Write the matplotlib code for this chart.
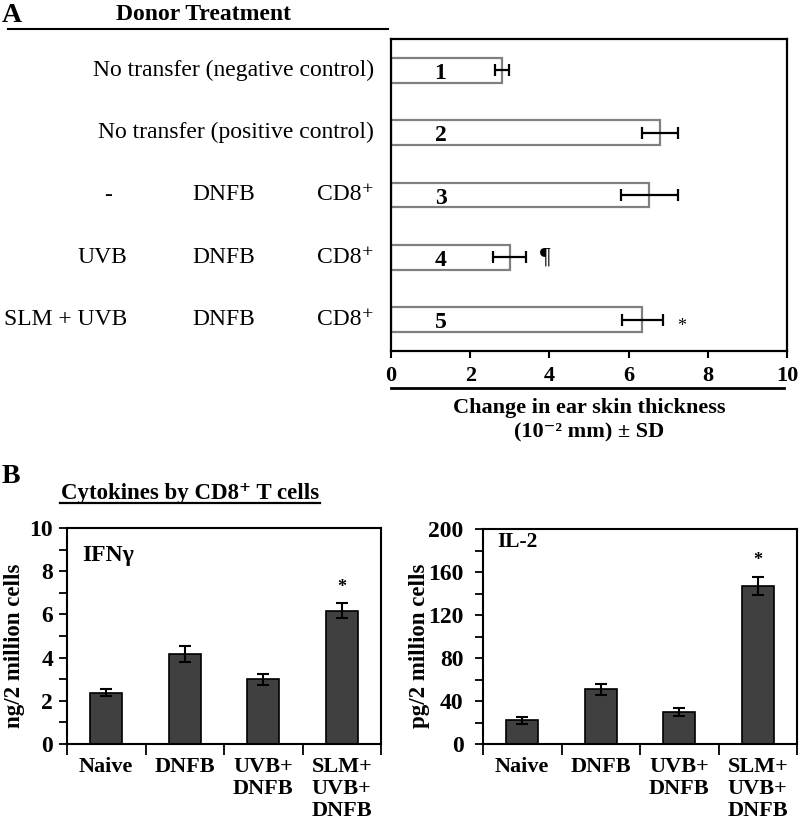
import numpy as np
import matplotlib
matplotlib.use("Agg")
import matplotlib.pyplot as plt
from matplotlib.lines import Line2D
from matplotlib.transforms import blended_transform_factory

plt.rcParams['font.family'] = ['Liberation Serif', 'DejaVu Serif']

# ---------------- data ----------------
# Panel A
row_numbers = ["1", "2", "3", "4", "5"]
control_labels = ["No transfer (negative control)", "No transfer (positive control)"]
treat_col1 = ["-", "UVB", "SLM + UVB"]
treat_col2 = ["DNFB", "DNFB", "DNFB"]
treat_col3 = ["CD8\u207a", "CD8\u207a", "CD8\u207a"]
thickness = [2.8, 6.8, 6.52, 3.0, 6.35]
thickness_sd = [0.18, 0.46, 0.72, 0.42, 0.52]
thickness_marks = ["", "", "", "\u00b6", "*"]
a_xticks = [0, 2, 4, 6, 8, 10]

# Panel B
groups = ["Naive", "DNFB", "UVB+\nDNFB", "SLM+\nUVB+\nDNFB"]
ifng = [2.38, 4.17, 3.0, 6.18]
ifng_sd = [0.15, 0.37, 0.25, 0.36]
il2 = [22, 51, 30, 147]
il2_sd = [3, 5, 3.5, 8]
sig_marks = ["", "", "", "*"]
ifng_ticks = [0, 2, 4, 6, 8, 10]
il2_ticks = [0, 40, 80, 120, 160, 200]

W, H = 800, 825
fig = plt.figure(figsize=(W / 100, H / 100), dpi=100)


def px_axes(l, t, r, b):
    return fig.add_axes([l / W, 1 - b / H, (r - l) / W, (b - t) / H])


def ftext(x, y, s, **kw):
    return fig.text(x / W, 1 - y / H, s, **kw)


def fline(x0, x1, y, lw=1.5):
    fig.add_artist(Line2D([x0 / W, x1 / W], [1 - y / H, 1 - y / H],
                          transform=fig.transFigure, color='black', lw=lw))


# ---------------- Panel A ----------------
axA = px_axes(391, 39, 787, 351)
ypos = np.arange(len(thickness))
axA.barh(ypos, thickness, xerr=thickness_sd, height=0.4, color='white',
         edgecolor='#808080', linewidth=1.6,
         error_kw=dict(ecolor='black', elinewidth=1.6, capsize=4, capthick=1.6))
axA.set_xlim(0, 10)
axA.set_ylim(len(thickness) - 0.5, -0.5)
axA.set_yticks([])
axA.set_xticks(a_xticks)
axA.tick_params(axis='x', direction='out', length=5, width=1.5, pad=6, labelsize=16)
for lab in axA.get_xticklabels():
    lab.set_fontweight('bold')
for sp in axA.spines.values():
    sp.set_linewidth(1.6)

for i, s in enumerate(row_numbers):
    axA.text(1.25, i + 0.05, s, ha='center', va='center', fontsize=17, fontweight='bold')
for i, m in enumerate(thickness_marks):
    if m:
        fs = 17 if m != "*" else 13
        dy = 0 if m != "*" else 5
        axA.annotate(m, xy=(thickness[i] + thickness_sd[i], i), xytext=(10, -dy),
                     textcoords='offset points', ha='left', va='center', fontsize=fs)

trA = blended_transform_factory(fig.transFigure, axA.transData)
for i, s in enumerate(control_labels):
    axA.text(374 / W, i, s, transform=trA, ha='right', va='center', fontsize=17)
for j in range(len(treat_col1)):
    r = j + len(control_labels)
    if treat_col1[j] == "-":
        axA.text(108 / W, r, treat_col1[j], transform=trA, ha='center', va='center', fontsize=17)
    else:
        axA.text(127 / W, r, treat_col1[j], transform=trA, ha='right', va='center', fontsize=17)
    axA.text(224 / W, r, treat_col2[j], transform=trA, ha='center', va='center', fontsize=17)
    axA.text(374 / W, r, treat_col3[j], transform=trA, ha='right', va='center', fontsize=17)

ftext(2, 15, "A", fontsize=20, fontweight='bold', ha='left', va='center')
ftext(204, 14, "Donor Treatment", fontsize=17, fontweight='bold', ha='center', va='center')
fline(8, 388, 29, lw=1.5)
fline(391, 784, 388, lw=2)
ftext(589, 408, "Change in ear skin thickness", fontsize=16, fontweight='bold',
      ha='center', va='center')
ftext(589, 432, "(10\u207b\u00b2 mm) \u00b1 SD", fontsize=16, fontweight='bold',
      ha='center', va='center')

# ---------------- Panel B ----------------
ftext(2, 477, "B", fontsize=20, fontweight='bold', ha='left', va='center')
ftext(190, 494, "Cytokines by CD8\u207a T cells", fontsize=16.5, fontweight='bold',
      ha='center', va='center')
fline(60, 320, 503, lw=1.6)


def cyto_panel(rect, vals, errs, ticks, label, ylabel, ylabel_x, tag_xy, star_off, ypad,
               tag_fs):
    ax = px_axes(*rect)
    xs = np.arange(len(vals))
    ax.bar(xs, vals, width=0.41, color='#404040', edgecolor='black', linewidth=1.2,
           yerr=errs, error_kw=dict(ecolor='black', elinewidth=1.5, capsize=4, capthick=1.5))
    ax.set_xlim(-0.5, len(vals) - 0.5)
    ax.set_ylim(ticks[0], ticks[-1])
    ax.set_yticks(ticks)
    step = ticks[1] - ticks[0]
    ax.set_yticks(np.array(ticks[:-1]) + step / 2, minor=True)
    ax.tick_params(axis='y', which='both', direction='out', length=6, width=1.3,
                   labelsize=17, pad=ypad)
    for lab in ax.get_yticklabels():
        lab.set_fontweight('bold')
    ax.set_xticks(np.arange(len(vals) + 1) - 0.5)
    ax.set_xticklabels([])
    ax.tick_params(axis='x', which='major', direction='out', length=8, width=1.3)
    ax.set_xticks(xs, groups, minor=True)
    ax.tick_params(axis='x', which='minor', length=0, pad=9, labelsize=16)
    for lab in ax.get_xticklabels(minor=True):
        lab.set_fontweight('bold')
        lab.set_verticalalignment('top')
        lab.set_multialignment('center')
        lab.set_linespacing(1.15)
    for sp in ax.spines.values():
        sp.set_linewidth(1.5)
    for i, m in enumerate(sig_marks):
        if m:
            ax.annotate(m, xy=(i, vals[i] + errs[i]), xytext=(0, star_off),
                        textcoords='offset points', ha='center', va='center',
                        fontsize=13, fontweight='bold')
    ax.text(tag_xy[0], tag_xy[1], label, transform=ax.transAxes, ha='left', va='center',
            fontsize=tag_fs, fontweight='bold')
    ftext(ylabel_x, 646, ylabel, rotation=90, ha='center', va='center',
          fontsize=16.5, fontweight='bold')
    return ax


cyto_panel((67, 528, 381, 744), ifng, ifng_sd, ifng_ticks, "IFN\u03b3",
           "ng/2 million cells", 15, (0.05, 0.875), 11, 4, 17)
cyto_panel((483, 529, 797, 744), il2, il2_sd, il2_ticks, "IL-2",
           "pg/2 million cells", 420, (0.045, 0.94), 12, 8, 15.5)

fig.savefig("out.png", dpi=100)
